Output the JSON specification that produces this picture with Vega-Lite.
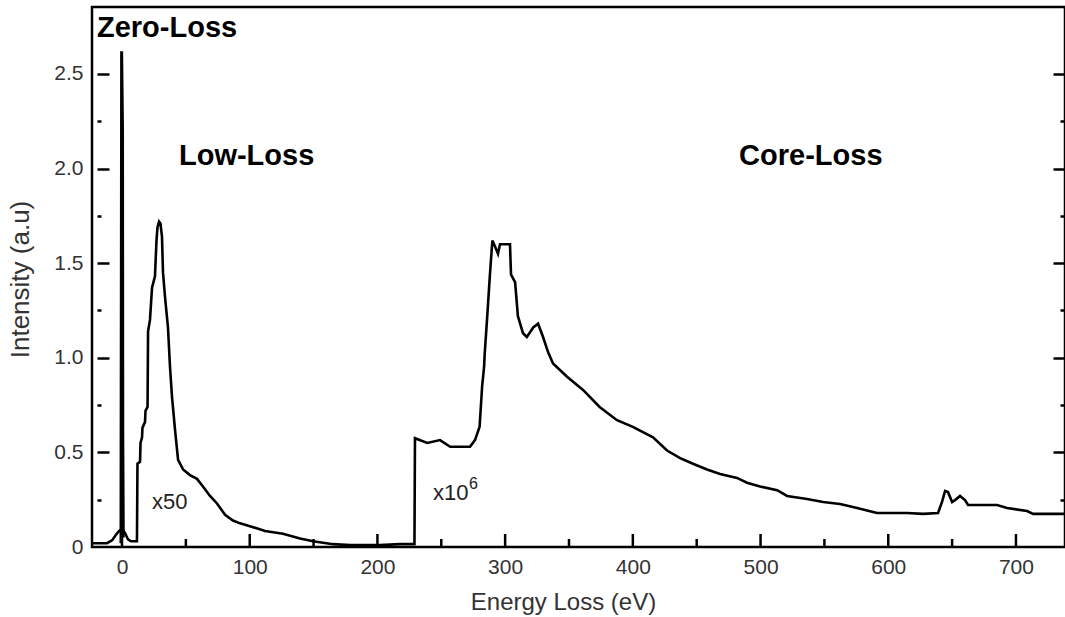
{
  "$schema": "https://vega.github.io/schema/vega-lite/v6.json",
  "width": 973,
  "height": 540,
  "autosize": {"type": "none"},
  "padding": {"left": 92, "top": 7, "right": 0, "bottom": 70},
  "background": "white",
  "config": {
    "view": {"stroke": "black", "strokeWidth": 2.5},
    "font": "Liberation Sans"
  },
  "datasets": {
    "zero": [
      {"e": -0.8, "i": 0.02},
      {"e": -0.3, "i": 2.62},
      {"e": 0.4, "i": 2.2},
      {"e": 0.6, "i": 0.6},
      {"e": 1.0, "i": 0.05}
    ],
    "spectrum": [
      {"e": -23.5, "i": 0.02}, {"e": -11.7, "i": 0.02}, {"e": -7.8, "i": 0.035}, {"e": -4.7, "i": 0.065},
      {"e": -2.3, "i": 0.085}, {"e": 0, "i": 0.095}, {"e": 2.3, "i": 0.075}, {"e": 4.7, "i": 0.04},
      {"e": 7, "i": 0.03}, {"e": 11.7, "i": 0.03}, {"e": 12.1, "i": 0.44}, {"e": 14.1, "i": 0.45},
      {"e": 14.5, "i": 0.55}, {"e": 15.7, "i": 0.58}, {"e": 16, "i": 0.63}, {"e": 18, "i": 0.66},
      {"e": 18.4, "i": 0.72}, {"e": 20, "i": 0.74}, {"e": 20.4, "i": 1.14}, {"e": 21.9, "i": 1.2},
      {"e": 23.5, "i": 1.37}, {"e": 25.8, "i": 1.43}, {"e": 27, "i": 1.62}, {"e": 27.8, "i": 1.69},
      {"e": 29, "i": 1.72}, {"e": 30.1, "i": 1.71}, {"e": 31.3, "i": 1.64}, {"e": 32.1, "i": 1.45},
      {"e": 33.7, "i": 1.32}, {"e": 36, "i": 1.16}, {"e": 37.6, "i": 0.95}, {"e": 39.2, "i": 0.79},
      {"e": 41.5, "i": 0.62}, {"e": 43.9, "i": 0.46}, {"e": 47.8, "i": 0.41}, {"e": 53.2, "i": 0.38},
      {"e": 58.7, "i": 0.36}, {"e": 63.4, "i": 0.32}, {"e": 68.9, "i": 0.27}, {"e": 74.4, "i": 0.23},
      {"e": 80.7, "i": 0.17}, {"e": 86.9, "i": 0.14}, {"e": 92.4, "i": 0.125}, {"e": 100.2, "i": 0.11},
      {"e": 112, "i": 0.085}, {"e": 126, "i": 0.07}, {"e": 139.4, "i": 0.045}, {"e": 149.6, "i": 0.03},
      {"e": 165.2, "i": 0.015}, {"e": 178.5, "i": 0.01}, {"e": 202, "i": 0.01}, {"e": 217.7, "i": 0.015},
      {"e": 229.0, "i": 0.015}, {"e": 229.4, "i": 0.575}, {"e": 239, "i": 0.55}, {"e": 249, "i": 0.565},
      {"e": 257, "i": 0.53}, {"e": 272.5, "i": 0.53}, {"e": 276.4, "i": 0.565}, {"e": 280, "i": 0.635},
      {"e": 282, "i": 0.85}, {"e": 283.5, "i": 0.95}, {"e": 284, "i": 1.02}, {"e": 286, "i": 1.22},
      {"e": 288, "i": 1.43}, {"e": 290, "i": 1.62}, {"e": 292, "i": 1.59}, {"e": 294.4, "i": 1.55},
      {"e": 296, "i": 1.6}, {"e": 303.8, "i": 1.6}, {"e": 304.6, "i": 1.44}, {"e": 307.8, "i": 1.4},
      {"e": 310, "i": 1.22}, {"e": 314, "i": 1.13}, {"e": 317, "i": 1.11}, {"e": 322, "i": 1.16},
      {"e": 325.8, "i": 1.18}, {"e": 329.7, "i": 1.11}, {"e": 333.6, "i": 1.03}, {"e": 337.5, "i": 0.97},
      {"e": 348.5, "i": 0.9}, {"e": 361, "i": 0.83}, {"e": 374, "i": 0.74}, {"e": 387.6, "i": 0.67},
      {"e": 400, "i": 0.635}, {"e": 405.6, "i": 0.615}, {"e": 415.8, "i": 0.58}, {"e": 426.8, "i": 0.51},
      {"e": 437, "i": 0.47}, {"e": 447.1, "i": 0.44}, {"e": 458.1, "i": 0.41}, {"e": 468.3, "i": 0.386},
      {"e": 481.6, "i": 0.365}, {"e": 489.4, "i": 0.34}, {"e": 499.6, "i": 0.32}, {"e": 513, "i": 0.3},
      {"e": 520.8, "i": 0.27}, {"e": 536.4, "i": 0.254}, {"e": 549, "i": 0.238}, {"e": 562.3, "i": 0.227},
      {"e": 575.6, "i": 0.206}, {"e": 588.1, "i": 0.185}, {"e": 591.2, "i": 0.18}, {"e": 614.7, "i": 0.18},
      {"e": 627.3, "i": 0.175}, {"e": 639, "i": 0.18}, {"e": 642.1, "i": 0.238}, {"e": 644.5, "i": 0.296},
      {"e": 646.8, "i": 0.29}, {"e": 650, "i": 0.238}, {"e": 652.3, "i": 0.248}, {"e": 656.2, "i": 0.27},
      {"e": 660.1, "i": 0.248}, {"e": 662.5, "i": 0.222}, {"e": 685.2, "i": 0.222}, {"e": 693, "i": 0.206},
      {"e": 708.7, "i": 0.19}, {"e": 713.4, "i": 0.175}, {"e": 738.4, "i": 0.175}
    ],
    "regions": [
      {"t": "Zero-Loss", "e": -19.6, "i": 2.743},
      {"t": "Low-Loss", "e": 44.6, "i": 2.067},
      {"t": "Core-Loss", "e": 483.2, "i": 2.067}
    ],
    "scales": [
      {"t": "x50", "e": 23.5, "i": 0.238},
      {"t": "x10", "e": 243.5, "i": 0.285}
    ],
    "sup": [
      {"t": "6", "e": 271.7, "i": 0.333}
    ],
    "majorTicks": [
      {"v": 0}, {"v": 100}, {"v": 200}, {"v": 300}, {"v": 400}, {"v": 500}, {"v": 600}, {"v": 700}
    ],
    "minorTicks": [
      {"v": 50}, {"v": 150}, {"v": 250}, {"v": 350}, {"v": 450}, {"v": 550}, {"v": 650}
    ]
  },
  "resolve": {"axis": {"x": "independent", "y": "independent"}},
  "layer": [
    {
      "data": {"name": "zero"},
      "mark": {"type": "line", "color": "black", "strokeWidth": 3},
      "encoding": {
        "x": {
          "field": "e", "type": "quantitative",
          "scale": {"domain": [-23.5, 738.4], "nice": false, "zero": false},
          "axis": {
            "orient": "bottom", "values": [0, 100, 200, 300, 400, 500, 600, 700],
            "ticks": false, "domain": false, "grid": false,
            "labelPadding": 9, "labelFontSize": 21, "labelColor": "#333", "labelFont": "Liberation Sans",
            "title": "Energy Loss (eV)", "titleFontSize": 24, "titleFontWeight": "normal", "titleColor": "#333",
            "titleFont": "Liberation Sans", "titleX": 471, "titleY": 62, "titleBaseline": "alphabetic"
          }
        },
        "y": {
          "field": "i", "type": "quantitative",
          "scale": {"domain": [0, 2.854], "nice": false, "zero": false},
          "axis": {
            "orient": "left", "values": [0, 0.5, 1, 1.5, 2, 2.5],
            "labelExpr": "datum.value == 0 ? '0' : format(datum.value, '.1f')",
            "ticks": false, "domain": false, "grid": false,
            "labelPadding": 9, "labelFontSize": 21, "labelColor": "#333", "labelFont": "Liberation Sans",
            "title": "Intensity (a.u)", "titleFontSize": 26, "titleFontWeight": "normal", "titleColor": "#333",
            "titleFont": "Liberation Sans", "titleX": -64, "titleY": 272, "titleBaseline": "alphabetic", "titleAngle": -90
          }
        }
      }
    },
    {
      "data": {"name": "spectrum"},
      "mark": {"type": "line", "color": "black", "strokeWidth": 2.6},
      "encoding": {
        "x": {
          "field": "e", "type": "quantitative",
          "scale": {"domain": [-23.5, 738.4], "nice": false, "zero": false},
          "axis": null
        },
        "y": {
          "field": "i", "type": "quantitative",
          "scale": {"domain": [0, 2.854], "nice": false, "zero": false},
          "axis": {
            "orient": "left", "values": [0.5, 1, 1.5, 2, 2.5], "offset": -5,
            "tickSize": -12, "tickWidth": 2.5, "tickColor": "black",
            "labels": false, "domain": false, "grid": false, "title": null
          }
        }
      }
    },
    {
      "data": {"name": "regions"},
      "mark": {"type": "text", "align": "left", "baseline": "middle", "fontSize": 29, "fontWeight": "bold", "font": "Liberation Sans", "color": "black"},
      "encoding": {
        "text": {"field": "t"},
        "x": {
          "field": "e", "type": "quantitative",
          "scale": {"domain": [-23.5, 738.4], "nice": false, "zero": false},
          "axis": null
        },
        "y": {
          "field": "i", "type": "quantitative",
          "scale": {"domain": [0, 2.854], "nice": false, "zero": false},
          "axis": {
            "orient": "left", "values": [0.25, 0.75, 1.25, 1.75, 2.25], "offset": -5,
            "tickSize": -4, "tickWidth": 2.5, "tickColor": "black",
            "labels": false, "domain": false, "grid": false, "title": null
          }
        }
      }
    },
    {
      "data": {"name": "scales"},
      "mark": {"type": "text", "align": "left", "baseline": "middle", "fontSize": 22, "font": "Liberation Sans", "color": "#222"},
      "encoding": {
        "text": {"field": "t"},
        "x": {
          "field": "e", "type": "quantitative",
          "scale": {"domain": [-23.5, 738.4], "nice": false, "zero": false},
          "axis": null
        },
        "y": {
          "field": "i", "type": "quantitative",
          "scale": {"domain": [0, 2.854], "nice": false, "zero": false},
          "axis": {
            "orient": "right", "values": [0.5, 1, 1.5, 2, 2.5],
            "tickSize": -12, "tickWidth": 2.5, "tickColor": "black",
            "labels": false, "domain": false, "grid": false, "title": null
          }
        }
      }
    },
    {
      "data": {"name": "sup"},
      "mark": {"type": "text", "align": "left", "baseline": "middle", "fontSize": 16, "font": "Liberation Sans", "color": "#222"},
      "encoding": {
        "text": {"field": "t"},
        "x": {
          "field": "e", "type": "quantitative",
          "scale": {"domain": [-23.5, 738.4], "nice": false, "zero": false},
          "axis": null
        },
        "y": {
          "field": "i", "type": "quantitative",
          "scale": {"domain": [0, 2.854], "nice": false, "zero": false},
          "axis": {
            "orient": "right", "values": [0.25, 0.75, 1.25, 1.75, 2.25],
            "tickSize": -5, "tickWidth": 2.5, "tickColor": "black",
            "labels": false, "domain": false, "grid": false, "title": null
          }
        }
      }
    },
    {
      "data": {"name": "majorTicks"},
      "mark": {"type": "rule", "color": "black", "strokeWidth": 2.5},
      "encoding": {
        "x": {
          "field": "v", "type": "quantitative",
          "scale": {"domain": [-23.5, 738.4], "nice": false, "zero": false},
          "axis": null
        },
        "y": {"datum": 0, "type": "quantitative", "scale": {"domain": [0, 2.854], "nice": false, "zero": false}, "axis": null},
        "y2": {"datum": 0.0687}
      }
    },
    {
      "data": {"name": "minorTicks"},
      "mark": {"type": "rule", "color": "black", "strokeWidth": 2.5},
      "encoding": {
        "x": {
          "field": "v", "type": "quantitative",
          "scale": {"domain": [-23.5, 738.4], "nice": false, "zero": false},
          "axis": null
        },
        "y": {"datum": 0, "type": "quantitative", "scale": {"domain": [0, 2.854], "nice": false, "zero": false}, "axis": null},
        "y2": {"datum": 0.0423}
      }
    }
  ]
}
